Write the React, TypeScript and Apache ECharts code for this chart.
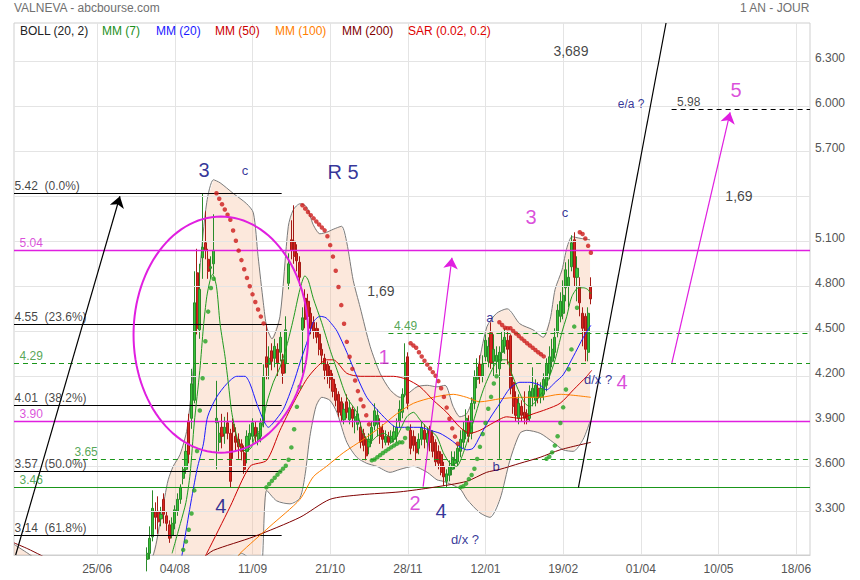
import React, { useEffect, useRef } from 'react';
import * as echarts from 'echarts';

const FONT = "'Liberation Sans', Arial, Helvetica, sans-serif";

// ---------------- axes ----------------
const SLOT_COUNT = 288;
const FIRST_LABEL_SLOT = 30;
const LABEL_EVERY = 28;
const dateLabels = ['25/06', '04/08', '11/09', '21/10', '28/11', '12/01', '19/02', '01/04', '10/05', '18/06'];
const priceTicks = [3.3, 3.6, 3.9, 4.2, 4.5, 4.8, 5.1, 5.4, 5.7, 6.0, 6.3];
const hiddenTickLabels = [5.4];
const Y_MIN = 3.009;
const Y_MAX = 6.555;

// ---------------- daily candles [open, close, low, high] ----------------
const firstCandleSlot = 48;
const candles: number[][] = [
  [2.98, 3.02, 2.90, 3.06], [3.02, 3.12, 2.98, 3.20], [3.13, 3.32, 3.10, 3.44], [3.30, 3.26, 3.18, 3.36],
  [3.30, 3.23, 3.15, 3.40], [3.25, 3.28, 3.20, 3.33], [3.38, 3.28, 3.22, 3.42], [3.27, 3.22, 3.17, 3.30],
  [3.21, 3.12, 3.09, 3.24], [3.14, 3.22, 3.12, 3.26], [3.22, 3.31, 3.18, 3.34], [3.30, 3.38, 3.27, 3.42],
  [3.38, 3.46, 3.35, 3.48], [3.52, 3.58, 3.48, 3.60], [3.58, 3.70, 3.55, 3.75], [3.90, 3.68, 3.62, 3.95],
  [3.92, 4.15, 3.85, 4.25], [4.04, 4.69, 4.02, 4.90], [4.89, 4.52, 4.48, 5.05], [4.51, 4.78, 4.45, 4.95],
  [4.99, 5.06, 4.85, 5.42], [5.09, 5.04, 4.98, 5.30], [4.98, 4.90, 4.85, 5.05], [4.92, 4.93, 4.85, 5.00],
  [4.95, 5.04, 4.88, 5.28], [3.89, 3.92, 3.58, 4.17], [3.76, 3.82, 3.70, 3.90], [3.86, 3.80, 3.72, 3.95],
  [3.82, 3.86, 3.75, 3.93], [3.89, 3.82, 3.78, 3.96], [3.82, 3.50, 3.46, 3.85], [3.88, 3.83, 3.65, 3.92],
  [3.80, 3.76, 3.70, 3.86], [3.78, 3.73, 3.65, 3.82], [3.75, 3.70, 3.64, 3.78], [3.69, 3.58, 3.55, 3.74],
  [3.70, 3.80, 3.62, 3.84], [3.78, 3.82, 3.72, 3.88], [3.80, 3.89, 3.76, 3.92], [3.86, 3.80, 3.76, 3.90],
  [3.78, 3.82, 3.74, 3.86], [3.80, 3.89, 3.76, 3.92], [3.89, 4.20, 3.86, 4.28], [4.33, 4.26, 4.18, 4.55],
  [4.28, 4.32, 4.18, 4.40], [4.37, 4.30, 4.24, 4.42], [4.32, 4.40, 4.26, 4.45], [4.38, 4.29, 4.20, 4.42],
  [4.36, 4.46, 4.30, 4.50], [4.31, 4.22, 4.15, 4.35], [4.29, 4.51, 4.22, 4.60], [4.82, 4.95, 4.78, 5.02],
  [5.11, 5.04, 4.98, 5.24], [5.10, 5.00, 4.95, 5.34], [5.02, 4.97, 4.90, 5.08], [4.96, 4.86, 4.80, 5.00],
  [4.51, 4.59, 4.22, 4.66], [4.72, 4.58, 4.52, 4.78], [4.70, 4.60, 4.55, 4.75], [4.62, 4.52, 4.48, 4.66],
  [4.56, 4.50, 4.45, 4.60], [4.52, 4.46, 4.42, 4.56], [4.48, 4.38, 4.34, 4.52], [4.38, 4.34, 4.28, 4.42],
  [4.32, 4.24, 4.18, 4.35], [4.28, 4.20, 4.15, 4.30], [4.24, 4.18, 4.12, 4.27], [4.18, 4.10, 4.06, 4.22],
  [4.12, 4.04, 4.00, 4.15], [4.08, 3.96, 3.93, 4.10], [4.03, 3.94, 3.90, 4.06], [3.91, 3.98, 3.88, 4.02],
  [4.03, 3.96, 3.92, 4.08], [3.91, 3.99, 3.88, 4.04], [3.98, 3.92, 3.86, 4.00], [3.90, 3.93, 3.82, 3.98],
  [3.88, 3.95, 3.84, 4.00], [3.86, 3.76, 3.72, 3.90], [3.82, 3.74, 3.70, 3.85], [3.78, 3.67, 3.64, 3.80],
  [3.73, 3.78, 3.68, 3.82], [3.78, 3.86, 3.75, 3.90], [3.87, 3.97, 3.84, 4.02], [3.88, 3.94, 3.80, 3.98],
  [3.86, 3.80, 3.75, 3.92], [3.84, 3.78, 3.72, 3.88], [3.76, 3.80, 3.74, 3.84], [3.80, 3.76, 3.74, 3.83],
  [3.76, 3.80, 3.75, 3.84], [3.78, 3.83, 3.76, 3.87], [3.80, 3.86, 3.76, 3.92], [3.90, 3.98, 3.86, 4.04],
  [3.96, 4.08, 3.92, 4.12], [4.08, 4.29, 4.06, 4.42], [4.33, 4.02, 3.98, 4.36], [3.84, 3.72, 3.68, 3.88],
  [3.80, 3.74, 3.70, 3.84], [3.76, 3.69, 3.64, 3.80], [3.72, 3.78, 3.68, 3.82], [3.78, 3.86, 3.74, 3.90],
  [3.84, 3.78, 3.72, 3.88], [3.76, 3.82, 3.70, 3.86], [3.84, 3.76, 3.70, 3.87], [3.80, 3.70, 3.66, 3.84],
  [3.76, 3.63, 3.60, 3.78], [3.70, 3.62, 3.58, 3.74], [3.68, 3.56, 3.54, 3.70], [3.60, 3.53, 3.47, 3.63],
  [3.50, 3.55, 3.46, 3.58], [3.54, 3.60, 3.50, 3.64], [3.58, 3.66, 3.54, 3.70], [3.62, 3.64, 3.58, 3.70],
  [3.63, 3.72, 3.60, 3.74], [3.70, 3.78, 3.66, 3.84], [3.76, 3.84, 3.72, 3.90], [3.82, 3.92, 3.78, 3.98],
  [3.90, 3.80, 3.76, 3.94], [3.82, 4.02, 3.78, 4.06], [4.02, 4.20, 3.98, 4.24], [4.18, 4.26, 4.12, 4.32],
  [4.28, 4.20, 4.15, 4.34], [4.20, 4.28, 4.16, 4.34], [4.33, 4.44, 4.30, 4.48], [4.30, 4.40, 4.26, 4.46],
  [4.49, 4.29, 4.25, 4.56], [4.30, 4.38, 4.20, 4.48], [4.30, 4.34, 4.22, 4.40], [4.25, 4.36, 3.65, 4.40],
  [4.36, 4.44, 4.30, 4.50], [4.40, 4.46, 4.35, 4.52], [4.44, 4.38, 4.28, 4.50], [4.47, 4.12, 4.08, 4.48],
  [4.16, 4.00, 3.95, 4.20], [4.05, 3.94, 3.90, 4.10], [3.92, 4.02, 3.88, 4.08], [4.00, 3.94, 3.90, 4.04],
  [3.96, 3.92, 3.88, 4.10], [3.95, 3.91, 3.88, 3.98], [3.92, 4.10, 3.90, 4.14], [4.06, 4.12, 4.00, 4.26],
  [4.04, 4.14, 4.00, 4.18], [4.12, 4.06, 4.02, 4.16], [4.06, 4.12, 4.02, 4.16], [4.08, 4.18, 4.04, 4.22],
  [4.14, 4.28, 4.10, 4.32], [4.22, 4.33, 4.18, 4.40], [4.30, 4.38, 4.26, 4.45], [4.36, 4.46, 4.32, 4.52],
  [4.49, 4.64, 4.46, 4.68], [4.60, 4.70, 4.56, 4.76], [4.62, 4.74, 4.58, 4.84], [4.79, 4.91, 4.70, 4.96],
  [4.80, 4.86, 4.66, 4.98], [4.93, 5.09, 4.90, 5.14], [5.11, 4.86, 4.80, 5.16], [4.86, 4.92, 4.70, 5.00],
  [4.80, 4.69, 4.60, 4.86], [4.62, 4.52, 4.40, 4.66], [4.60, 4.38, 4.30, 4.62], [4.36, 4.62, 4.30, 4.66],
  [4.80, 4.716, 4.68, 4.86],
];
const lastClose = 4.716;
const markedPrice = 5.415;
// SAR level carried in from the (unshown) earlier history, where the first green dots start
const sarSeed = 2.60;

// ---------------- indicator lines [slot, value] ----------------
const mm7 = [[57, 3.02], [60, 3.22], [62, 3.36], [63.5, 3.55], [65, 3.89], [67, 4.24], [68.3, 4.53], [69.5, 4.73], [70.7, 4.84], [71.6, 4.88], [73, 4.80], [74.3, 4.55], [76.1, 4.33], [77.3, 4.15], [78.5, 3.96], [80.3, 3.80], [81.5, 3.73], [83.9, 3.70], [85.7, 3.73], [86.9, 3.80], [89.3, 3.86], [91.1, 4.02], [93.5, 4.16], [95.9, 4.26], [98.3, 4.40], [100.7, 4.58], [103.1, 4.78], [104.9, 4.87], [106.1, 4.84], [107.9, 4.72], [110.9, 4.56], [113.9, 4.38], [116.9, 4.22], [120, 4.06], [123.6, 3.96], [125.9, 3.82], [128.4, 3.76], [130.8, 3.80], [133.2, 3.82], [136.8, 3.78], [141.6, 3.93], [144, 3.96], [146.4, 3.91], [148.8, 3.86], [152.4, 3.80], [154.8, 3.69], [157.2, 3.62], [159.6, 3.60], [162, 3.69], [165, 3.86], [169.2, 4.11], [172.8, 4.26], [175.2, 4.31], [177.6, 4.31], [179.4, 4.22], [181.8, 4.11], [184.2, 4.02], [186, 4.00], [188.5, 4.04], [190.9, 4.11], [192.7, 4.18], [195.1, 4.31], [197.5, 4.49], [199.3, 4.60], [201.1, 4.73], [203.5, 4.79], [205.3, 4.79], [206.8, 4.78], [208, 4.75]];
const mm20 = [[60.5, 3.00], [63.5, 3.33], [66, 3.58], [68.3, 3.75], [69.8, 3.93], [73, 4.06], [76.7, 4.15], [80.3, 4.20], [83.3, 4.20], [85.1, 4.15], [87.5, 4.02], [89.9, 3.91], [91.7, 3.86], [93.5, 3.89], [97.1, 3.98], [100.7, 4.15], [103.1, 4.29], [105.5, 4.42], [107.9, 4.56], [110.3, 4.60], [112.5, 4.59], [114.5, 4.55], [116.5, 4.50], [120, 4.36], [123.6, 4.20], [127.2, 4.06], [130.8, 3.98], [134.4, 3.91], [138, 3.86], [141.6, 3.86], [146.4, 3.86], [150, 3.84], [153.6, 3.82], [157.2, 3.78], [160.8, 3.73], [163.2, 3.71], [165.5, 3.72], [168, 3.80], [171.6, 3.92], [175.2, 4.02], [178.8, 4.12], [182.4, 4.16], [186, 4.16], [189.7, 4.14], [192, 4.11], [195.1, 4.16], [198, 4.21], [201.6, 4.33], [205.3, 4.46], [208, 4.54]];
const mm50 = [[68, 2.97], [69.5, 3.02], [77.9, 3.33], [85.1, 3.60], [91.1, 3.64], [95.9, 3.84], [100.7, 4.02], [105.5, 4.18], [109.1, 4.26], [112.7, 4.31], [115.1, 4.31], [120, 4.22], [124.8, 4.20], [132, 4.20], [136.8, 4.20], [141.6, 4.18], [146.4, 4.13], [151.2, 4.04], [156, 3.96], [160.8, 3.86], [164.4, 3.82], [168, 3.84], [172.8, 3.89], [177.6, 3.93], [182.4, 3.92], [187.2, 3.95], [192, 3.98], [196.9, 4.02], [201.7, 4.11], [206.5, 4.20], [208.3, 4.24]];
const mm100 = [[80, 2.98], [81.5, 3.02], [92.3, 3.20], [103.1, 3.38], [107.9, 3.53], [112.7, 3.60], [118.7, 3.69], [126, 3.78], [132, 3.86], [138, 3.95], [144, 4.02], [151.2, 4.06], [158.4, 4.08], [163.2, 4.06], [168, 4.03], [175.2, 4.05], [182.4, 4.06], [189.7, 4.06], [196.9, 4.08], [208, 4.06]];
const mm200 = [[0, 3.09], [5, 3.05], [9.4, 3.01], [14, 2.97], [40, 2.90], [60, 2.92], [68, 2.99], [71.9, 3.04], [86.3, 3.13], [103.1, 3.26], [113.9, 3.38], [124.8, 3.41], [139.2, 3.43], [151.2, 3.46], [163.2, 3.50], [170.4, 3.56], [175.2, 3.58], [182.4, 3.62], [189.7, 3.66], [196.9, 3.71], [208, 3.76]];
const bollUpper = [[0, 3.08], [5, 3.02], [8, 2.98], [20, 2.85], [45, 2.90], [50, 3.00], [52.6, 3.22], [54.4, 3.40], [55.6, 3.51], [57.4, 3.60], [59.9, 3.68], [62.4, 3.85], [64.6, 4.24], [67, 4.91], [69.5, 5.36], [71.9, 5.51], [74.3, 5.49], [79, 5.42], [83.9, 5.35], [86.3, 5.29], [88, 5.00], [89.9, 4.69], [91.1, 4.53], [93, 4.45], [95.9, 4.60], [98.9, 5.20], [100.7, 5.31], [103.1, 5.35], [105.5, 5.33], [107.9, 5.21], [110.3, 5.15], [112.7, 5.16], [115.1, 5.18], [118.1, 5.20], [120, 5.09], [122.3, 4.84], [124.8, 4.66], [128.4, 4.40], [132, 4.22], [135.6, 4.11], [139.2, 4.06], [141.7, 4.08], [145.3, 4.13], [149, 4.14], [152.5, 4.13], [155.4, 4.14], [158.3, 4.00], [160.8, 3.93], [163.2, 3.95], [165.6, 4.06], [167, 4.22], [170.5, 4.53], [174, 4.62], [177.8, 4.65], [182.4, 4.55], [187.1, 4.51], [190.8, 4.46], [193.3, 4.58], [195.1, 4.78], [197.6, 4.91], [199.4, 5.06], [201.2, 5.13], [204.1, 5.12], [207.7, 5.11]];
const bollLower = [[0, 2.70], [50, 2.60], [70, 2.50], [78, 2.90], [82, 3.02], [86, 2.97], [89, 2.90], [91.1, 3.44], [94.7, 3.37], [99.5, 3.35], [103.1, 3.39], [105, 3.55], [106.7, 3.80], [108.9, 4.00], [111, 4.06], [113.9, 4.04], [116.4, 3.96], [120, 3.76], [123.6, 3.66], [127.2, 3.62], [130.8, 3.60], [135.6, 3.56], [139.2, 3.58], [144, 3.60], [149, 3.56], [152.5, 3.51], [154.8, 3.50], [160.8, 3.45], [163.3, 3.38], [168, 3.29], [171.6, 3.26], [175.2, 3.38], [178.8, 3.64], [182.4, 3.82], [184.9, 3.84], [189.7, 3.82], [194.4, 3.76], [198, 3.71], [201.6, 3.70], [205.2, 3.78], [207.7, 3.90]];

// ---------------- drawn levels ----------------
const fibLevels = [5.42, 4.55, 4.01, 3.57, 3.14];
const fibRatios = ['0.0%', '23.6%', '38.2%', '50.0%', '61.8%'];
const fibEndSlot = 96.5;
const magentaLevels = [5.04, 3.90];
const greenDashedLevels = [4.29, 3.65, 4.49];
const greenDashedStarts = [0, 21.6, 135];
const greenDashedLabelSlots = [1.8, 21.6, 136.8];
const greenSolidLevel = 3.46;
const targetLevel = 5.98;
const targetStartSlot = 237.1;
const targetLabelSlot = 238.9;

// trend lines [fromSlot, fromValue, toSlot, toValue]
const blackArrow = [0.6, 3.009, 38.2, 5.40];
const blackLine = [203.5, 3.458, 235.1, 6.555];
const magentaArrows = [[147.5, 3.465, 157.9, 4.99], [237.2, 4.29, 258.2, 5.96]];

// circled zone [centerSlot, centerValue, radiusSlots, radiusValue]
const circled = [74.6, 4.478, 31.5, 0.787];

// text notes [slot, value, text, kind]
const notes: [number, number, string, string][] = [
  [68.5, 5.576, '3', 'wave'], [83.3, 5.569, 'c', 'sub'], [118.6, 5.562, 'R 5', 'wave'],
  [132.3, 4.769, '1,69', 'ratio'], [133.4, 4.329, '1', 'waveM'], [144.6, 3.356, '2', 'waveM'],
  [154.0, 3.302, '4', 'wave'], [74.6, 3.336, '4', 'wave'], [162.6, 3.109, 'd/x ?', 'sub'],
  [171.6, 4.589, 'a', 'sub'], [173.8, 3.596, 'b', 'sub'], [186.4, 5.262, '3', 'waveM'],
  [198.7, 5.289, 'c', 'sub'], [210.6, 4.182, 'd/x ?', 'sub'], [219.2, 4.162, '4', 'waveM'],
  [200.8, 6.369, '3,689', 'ratio'], [222.5, 6.016, 'e/a ?', 'small'], [260.3, 6.109, '5', 'waveM'],
  [261.4, 5.402, '1,69', 'ratio'],
];

// ---------------- styles ----------------
const MAGENTA = '#e01fe0';
const MAGENTA_TEXT = '#d21fd2';
const NAVY = '#000080';
const GREEN_LINE = '#1a961a';
const GREEN_TEXT = '#2a8f2a';
const GRID = '#e4e4e4';
const BAND_FILL = 'rgba(245,178,138,0.30)';
const noteStyles: Record<string, any> = {
  wave: { fontSize: 20, color: NAVY },
  waveM: { fontSize: 20, color: MAGENTA_TEXT },
  sub: { fontSize: 13, color: NAVY },
  small: { fontSize: 12, color: NAVY },
  ratio: { fontSize: 14, color: '#111' },
};

function computeSar(rows: number[][], step: number, maxStep: number, seed: number) {
  const out: [number, boolean][] = [];
  let up = true;
  let sar = seed;
  let ep = rows[0][3];
  let af = step;
  out.push([sar, up]);
  for (let k = 1; k < rows.length; k++) {
    const low = rows[k][2];
    const high = rows[k][3];
    let next = sar + af * (ep - sar);
    if (up) {
      next = Math.min(next, rows[k - 1][2], rows[Math.max(k - 2, 0)][2]);
      if (low < next) { up = false; next = ep; ep = low; af = step; }
      else if (high > ep) { ep = high; af = Math.min(af + step, maxStep); }
    } else {
      next = Math.max(next, rows[k - 1][3], rows[Math.max(k - 2, 0)][3]);
      if (high > next) { up = true; next = ep; ep = high; af = step; }
      else if (low < ep) { ep = low; af = Math.min(af + step, maxStep); }
    }
    sar = next;
    out.push([sar, up]);
  }
  return out;
}

function buildOption() {
  const slots = Array.from({ length: SLOT_COUNT }, (_, i) => String(i));
  const isLabelSlot = (i: number) =>
    i >= FIRST_LABEL_SLOT && (i - FIRST_LABEL_SLOT) % LABEL_EVERY === 0 &&
    (i - FIRST_LABEL_SLOT) / LABEL_EVERY < dateLabels.length;

  const candleData = candles.map((c, k) => [firstCandleSlot + k, c[0], c[1], c[2], c[3]]);
  const sar = computeSar(candles, 0.02, 0.2, sarSeed);
  const sarUp = sar.map((s, k) => (s[1] ? [firstCandleSlot + k, s[0]] : null)).filter(Boolean);
  const sarDown = sar.map((s, k) => (!s[1] ? [firstCandleSlot + k, s[0]] : null)).filter(Boolean);

  const lastSlot = SLOT_COUNT - 1;
  const hLine = (from: number, to: number, v: number, color: string, width: number, type: any) =>
    [{ coord: [from, v], lineStyle: { color, width, type } }, { coord: [to, v] }];
  const levelLines: any[] = [];
  const levelLabels: any[] = [];
  fibLevels.forEach((v, k) => {
    levelLines.push(hLine(0, fibEndSlot, v, '#000', 1, 'solid'));
    levelLabels.push({ value: [0, v], label: { formatter: `${v.toFixed(2)}  (${fibRatios[k]})`, color: '#111' } });
  });
  magentaLevels.forEach((v) => {
    levelLines.push(hLine(0, lastSlot, v, MAGENTA, 1.3, 'solid'));
    levelLabels.push({ value: [1.8, v], label: { formatter: v.toFixed(2), color: MAGENTA_TEXT } });
  });
  greenDashedLevels.forEach((v, k) => {
    levelLines.push(hLine(greenDashedStarts[k], lastSlot, v, GREEN_LINE, 1, [5, 4]));
    levelLabels.push({ value: [greenDashedLabelSlots[k], v], label: { formatter: v.toFixed(2), color: GREEN_TEXT } });
  });
  levelLines.push(hLine(0, lastSlot, greenSolidLevel, GREEN_LINE, 1, 'solid'));
  levelLabels.push({ value: [1.8, greenSolidLevel], label: { formatter: greenSolidLevel.toFixed(2), color: GREEN_TEXT } });
  levelLines.push(hLine(targetStartSlot, lastSlot, targetLevel, '#000', 1, [5, 4]));
  levelLabels.push({ value: [targetLabelSlot, targetLevel], label: { formatter: targetLevel.toFixed(2), color: '#111' } });

  const lineSeries = (name: string, data: number[][], color: string, z: number) => ({
    name, type: 'line', xAxisIndex: 1, yAxisIndex: 0, data, showSymbol: false, symbol: 'none',
    smooth: 0.25, lineStyle: { color, width: 1 }, z, silent: true,
  });

  const legendItems = [
    ['BOLL (20, 2)', 20, '#222'], ['MM (7)', 102, '#1c8f1c'], ['MM (20)', 156, '#1a1aff'],
    ['MM (50)', 215, '#cc0000'], ['MM (100)', 275, '#ff8000'], ['MM (200)', 342, '#800000'],
    ['SAR (0.02, 0.2)', 408, '#dd0000'],
  ];

  return {
    animation: false,
    backgroundColor: '#ffffff',
    textStyle: { fontFamily: FONT },
    grid: { left: 14, right: 50, top: 23, bottom: 25, show: true, borderColor: '#cfcfcf', borderWidth: 1, backgroundColor: 'transparent' },
    graphic: [
      { type: 'text', left: 14, top: 2, style: { text: 'VALNEVA - abcbourse.com', fill: '#707070', font: `12px ${FONT}` } },
      { type: 'text', right: 50, top: 2, style: { text: '1 AN - JOUR', fill: '#707070', font: `12px ${FONT}` } },
      ...legendItems.map(([t, x, c]) => ({
        type: 'text', left: x as number, top: 25, z: 100,
        style: { text: t as string, fill: c as string, font: `12px ${FONT}` },
      })),
    ],
    xAxis: [
      {
        type: 'category', data: slots, boundaryGap: false,
        axisLine: { show: true, lineStyle: { color: '#cfcfcf' } },
        axisTick: { show: false },
        axisLabel: {
          interval: (i: number) => isLabelSlot(i),
          formatter: (_v: string, i: number) => dateLabels[(i - FIRST_LABEL_SLOT) / LABEL_EVERY] || '',
          color: '#555', fontSize: 12, fontFamily: FONT, margin: 8,
        },
        splitLine: { show: true, interval: (i: number) => isLabelSlot(i), lineStyle: { color: GRID, width: 1 } },
      },
      { type: 'value', min: 0, max: SLOT_COUNT - 1, show: false },
    ],
    yAxis: { type: 'value', min: Y_MIN, max: Y_MAX, show: false, scale: true },
    series: [
      {
        name: 'grid', type: 'line', xAxisIndex: 1, data: [[0, Y_MIN]], symbol: 'none',
        lineStyle: { width: 0, opacity: 0 }, z: 0, silent: true,
        markLine: {
          silent: true, symbol: 'none', animation: false,
          lineStyle: { color: GRID, width: 1, type: 'solid' },
          label: {
            position: 'end', distance: 5, color: '#555', fontSize: 12, fontFamily: FONT, offset: [0, -3],
            formatter: (p: any) => Number(p.value).toFixed(3),
          },
          data: priceTicks.map((v) => ({ yAxis: v, label: { show: !hiddenTickLabels.includes(v) } })),
        },
      },
      {
        name: 'bollFill', type: 'custom', xAxisIndex: 1, yAxisIndex: 0, data: [[0, 4]], clip: true, z: 1, silent: true,
        renderItem: (params: any, api: any) => {
          if (params.dataIndex !== 0) return null;
          const cs = params.coordSys;
          const clampY = (p: number[]) => [p[0], Math.min(Math.max(p[1], cs.y), cs.y + cs.height)];
          const top = bollUpper.map((d) => clampY(api.coord(d)));
          const bottom = bollLower.slice().reverse().map((d) => clampY(api.coord(d)));
          return { type: 'polygon', shape: { points: top.concat(bottom) }, style: { fill: BAND_FILL, stroke: null } };
        },
      },
      lineSeries('bollUpper', bollUpper, '#7a7a7a', 2),
      lineSeries('bollLower', bollLower, '#7a7a7a', 2),
      {
        name: 'levels', type: 'line', xAxisIndex: 1, data: [[0, Y_MIN]], symbol: 'none',
        lineStyle: { width: 0, opacity: 0 }, z: 3, silent: true,
        markLine: { silent: true, symbol: 'none', animation: false, label: { show: false }, data: levelLines },
      },
      {
        name: 'prix', type: 'candlestick', xAxisIndex: 0, yAxisIndex: 0, data: candleData,
        encode: { x: 0, y: [1, 2, 3, 4] }, barWidth: 2.6, z: 4, silent: true,
        itemStyle: { color: '#37c237', color0: '#d9241f', borderColor: '#2a8a2a', borderColor0: '#a51a15', borderWidth: 1 },
      },
      lineSeries('MM200', mm200, '#800000', 5),
      lineSeries('MM100', mm100, '#ff7f00', 5),
      lineSeries('MM50', mm50, '#cc0000', 5),
      lineSeries('MM20', mm20, '#1a1aff', 5),
      lineSeries('MM7', mm7, '#1f9a1f', 5),
      {
        name: 'sarUp', type: 'scatter', xAxisIndex: 1, data: sarUp, symbolSize: 4.5, z: 6, silent: true,
        itemStyle: { color: '#22a322' },
      },
      {
        name: 'sarDown', type: 'scatter', xAxisIndex: 1, data: sarDown, symbolSize: 4.5, z: 6, silent: true,
        itemStyle: { color: '#cc1a1a' },
      },
      {
        name: 'circle', type: 'custom', xAxisIndex: 1, yAxisIndex: 0, data: [[circled[0], circled[1]]], z: 7, silent: true,
        renderItem: (params: any, api: any) => {
          const c = api.coord([circled[0], circled[1]]);
          const rx = api.size([circled[2], 0])[0];
          const ry = api.size([0, circled[3]])[1];
          const pts: number[][] = [];
          for (let k = 0; k <= 120; k++) {
            const t = (k / 120) * Math.PI * 2;
            pts.push([c[0] + rx * Math.cos(t), c[1] + ry * Math.sin(t)]);
          }
          return { type: 'polyline', shape: { points: pts }, style: { fill: null, stroke: MAGENTA, lineWidth: 2 } };
        },
      },
      {
        name: 'trendArrows', type: 'lines', coordinateSystem: 'cartesian2d', xAxisIndex: 1, yAxisIndex: 0, z: 7, silent: true,
        symbol: ['none', 'arrow'], symbolSize: 11,
        lineStyle: { width: 1.2, opacity: 1, curveness: 0 },
        data: [
          { coords: [[blackArrow[0], blackArrow[1]], [blackArrow[2], blackArrow[3]]], lineStyle: { color: '#000' } },
          ...magentaArrows.map((a) => ({ coords: [[a[0], a[1]], [a[2], a[3]]], lineStyle: { color: MAGENTA } })),
        ],
      },
      {
        name: 'trendLine', type: 'lines', coordinateSystem: 'cartesian2d', xAxisIndex: 1, yAxisIndex: 0, z: 7, silent: true,
        symbol: ['none', 'none'],
        lineStyle: { width: 1.2, opacity: 1, color: '#000' },
        data: [{ coords: [[blackLine[0], blackLine[1]], [blackLine[2], blackLine[3]]] }],
      },
      {
        name: 'levelLabels', type: 'scatter', xAxisIndex: 1, data: levelLabels, symbolSize: 1, z: 8, silent: true,
        itemStyle: { color: 'transparent' },
        label: { show: true, position: 'right', distance: 0, offset: [0, -7], fontSize: 12, fontFamily: FONT },
      },
      {
        name: 'notes', type: 'scatter', xAxisIndex: 1, symbolSize: 1, z: 8, silent: true,
        itemStyle: { color: 'transparent' },
        data: notes.map(([s, v, t, kind]) => ({
          value: [s, v],
          label: { show: true, position: 'inside', formatter: t, fontFamily: FONT, ...noteStyles[kind] },
        })),
      },
      {
        name: 'prices', type: 'line', xAxisIndex: 1, data: [[0, Y_MIN]], symbol: 'none',
        lineStyle: { width: 0, opacity: 0 }, z: 9, silent: true,
        markLine: {
          silent: true, symbol: 'none', animation: false, lineStyle: { width: 0, opacity: 0 },
          label: { position: 'end', distance: 2, color: '#fff', fontSize: 12, fontFamily: FONT, padding: [1, 5, 1, 3], lineHeight: 14 },
          data: [
            { yAxis: markedPrice, label: { backgroundColor: '#0a870a', formatter: markedPrice.toFixed(3) } },
            { yAxis: lastClose, label: { backgroundColor: '#666666', formatter: lastClose.toFixed(3) } },
          ],
        },
      },
    ],
  };
}

export default function App() {
  const ref = useRef<HTMLDivElement>(null);
  useEffect(() => {
    if (!ref.current) return;
    const chart = echarts.init(ref.current, null, { renderer: 'svg' });
    chart.setOption(buildOption() as any);
    return () => chart.dispose();
  }, []);
  return (
    <div
      ref={ref}
      style={{ position: 'fixed', left: 0, top: 0, width: 860, height: 580, background: '#fff' }}
    />
  );
}
